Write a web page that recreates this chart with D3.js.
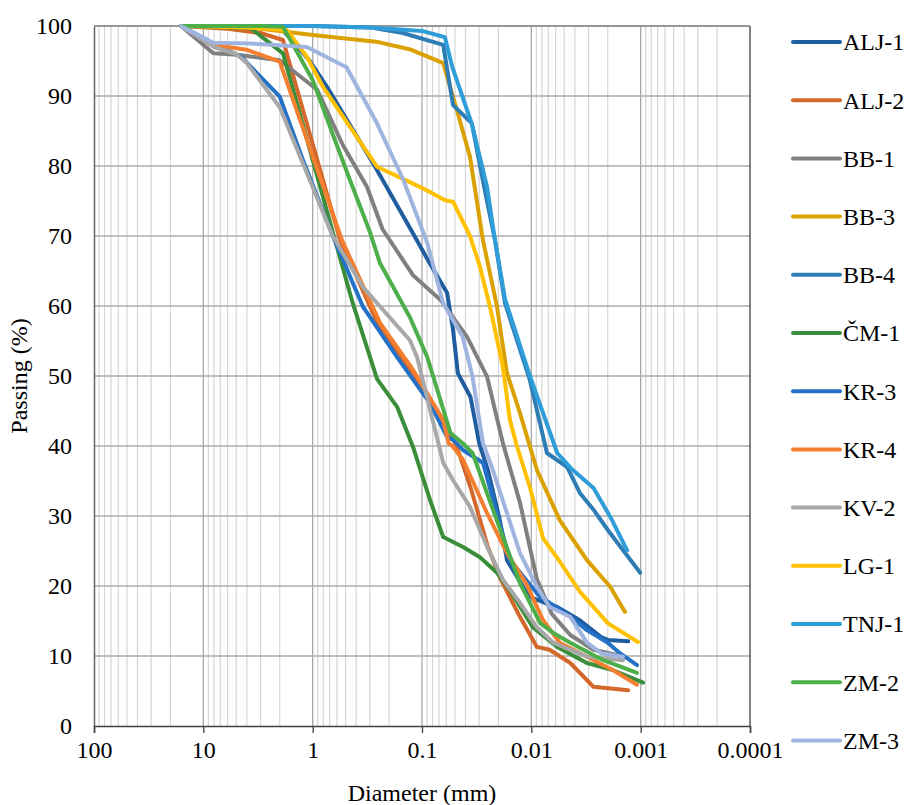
<!DOCTYPE html>
<html>
<head>
<meta charset="utf-8">
<script src="https://cdn.jsdelivr.net/npm/d3@7"></script>
<style>
  html, body { margin: 0; padding: 0; background: #fff; }
  svg { display: block; }
  svg text { font-family: "Liberation Serif", "Times New Roman", Times, "DejaVu Serif", serif !important; fill: #000; }
</style>
</head>
<body>
<div id="chart"></div>
<script>
// ---- data: [diameter (mm), passing (%)] ----
const seriesNames = ["ALJ-1","ALJ-2","BB-1","BB-3","BB-4","ČM-1","KR-3","KR-4","KV-2","LG-1","TNJ-1","ZM-2","ZM-3"];
const seriesColors = ["#1F5DA0","#D4672A","#808080","#DBA100","#2E7DB5","#3A8E3A","#2472C8","#F47F30","#A8A8A8","#FFC000","#2E9DD8","#4DAF4A","#9FB4DF"];

const ALJ1 = [[16,100],[4,100],[1.87,99.4],[1.06,95],[0.74,91.3],[0.28,80.4],[0.121,70.4],[0.085,66.1],[0.059,61.9],[0.052,56.6],[0.047,50.4],[0.036,47],[0.03,40.4],[0.025,36.6],[0.0194,29.4],[0.0167,23.7],[0.0105,18.5],[0.0075,17.6],[0.0058,17],[0.0036,15.1],[0.0023,12.7],[0.002,12.3],[0.0013,12.1]];
const ALJ2 = [[16,100],[6,99.6],[3,99],[1.87,98],[0.56,69.4],[0.24,56.6],[0.121,50.4],[0.064,43.7],[0.048,39.9],[0.036,34.1],[0.025,25.6],[0.019,20.9],[0.0127,15.6],[0.0089,11.3],[0.0068,10.9],[0.0044,9],[0.0027,5.6],[0.0013,5.1]];
const BB1 = [[16,100],[8.1,96.1],[4.9,95.9],[2,95.1],[0.91,90.9],[0.53,83],[0.318,77],[0.23,71],[0.121,64.4],[0.068,60.9],[0.0387,55.6],[0.0254,49.9],[0.0182,40.4],[0.0127,31.9],[0.0089,21],[0.0065,16],[0.0044,13],[0.0027,10.9],[0.0014,9.9]];
const BB3 = [[16,100],[5,100],[2,99.3],[1,98.7],[0.5,98.2],[0.25,97.7],[0.125,96.6],[0.064,94.7],[0.048,88],[0.0364,81.3],[0.0277,69.4],[0.0206,59.9],[0.0167,50.4],[0.0127,44.7],[0.0089,36.6],[0.0055,29.4],[0.0031,23.7],[0.0019,19.9],[0.00139,16.3]];
const BB4 = [[16,100],[1,100],[0.3,99.8],[0.15,99],[0.064,97.3],[0.052,88.7],[0.035,86.1],[0.027,77],[0.0215,69.4],[0.0174,60.4],[0.0103,49.4],[0.0072,39],[0.0047,37],[0.0036,33.3],[0.0027,30.9],[0.002,28],[0.00101,21.9]];
const CM1 = [[16,100],[3.7,99.7],[1.87,96.1],[0.65,70.4],[0.43,60.4],[0.258,49.6],[0.169,45.6],[0.121,39.9],[0.0845,32.3],[0.064,27],[0.0425,25.6],[0.0295,24.1],[0.0206,21.9],[0.0157,19.4],[0.0097,14.1],[0.0058,11.3],[0.0031,9],[0.0018,8],[0.00095,6.2]];
const KR3 = [[16,100],[8,97.5],[4.5,95.6],[2,89.9],[1.23,80.9],[0.65,69.9],[0.347,59.9],[0.169,52.7],[0.0845,46.1],[0.059,41.3],[0.052,40.9],[0.042,39.4],[0.0277,37.6],[0.0157,23.7],[0.0083,18.4],[0.0068,17.6],[0.0044,15.6],[0.0031,13.7],[0.002,11.9],[0.00155,10.4],[0.00108,8.7]];
const KR4 = [[16,100],[8,97.3],[4,96.6],[2,94.9],[0.54,69.4],[0.242,57.6],[0.121,50.9],[0.064,43.7],[0.057,40.4],[0.052,39.9],[0.042,38],[0.0254,30.4],[0.0167,24.7],[0.011,20.2],[0.0078,15.1],[0.0055,11.9],[0.0031,9.9],[0.0018,8],[0.00108,5.9]];
const KV2 = [[16,100],[8,97],[5,96],[4,94.7],[2,88.4],[0.65,69.9],[0.347,62.7],[0.129,55.1],[0.111,52.7],[0.064,37.6],[0.052,35.1],[0.0364,31.3],[0.0254,25.6],[0.0182,20.9],[0.0127,17.6],[0.0089,14.1],[0.0063,11.9],[0.0031,9.9],[0.00145,9.4]];
const LG1 = [[16,100],[4,99.8],[2,99.5],[1.72,99.4],[1.13,95.6],[0.805,91.3],[0.456,85.6],[0.258,79.9],[0.129,77.7],[0.0845,76.3],[0.0617,75.1],[0.052,74.9],[0.0364,70],[0.0295,65.6],[0.0239,59.9],[0.0182,51.3],[0.0157,43.7],[0.0135,39.9],[0.0103,34.1],[0.0078,26.8],[0.0055,23.5],[0.0036,19.2],[0.002,14.7],[0.00106,12]];
const TNJ1 = [[16,100],[1,100],[0.3,99.8],[0.1,99.3],[0.0617,98.4],[0.053,94.2],[0.035,86],[0.0254,77],[0.0215,69.4],[0.0174,61],[0.0103,50],[0.0058,39],[0.0042,36.6],[0.0027,34],[0.0019,29.9],[0.00133,25.1]];
const ZM2 = [[16,100],[3,100],[1.87,99.9],[1.0,92.3],[0.65,84.4],[0.456,78],[0.3,70.6],[0.242,66.1],[0.129,58.4],[0.0895,52.7],[0.055,41.9],[0.0425,40.4],[0.0345,39],[0.0182,27],[0.0127,20.4],[0.0083,14.7],[0.0063,13.3],[0.0044,11.9],[0.0022,9.4],[0.00108,7.6]];
const ZM3 = [[16,100],[8.2,97.6],[3.7,97.5],[1.13,97],[0.49,94.1],[0.258,86.1],[0.148,78],[0.0895,69],[0.064,60.4],[0.0425,55.6],[0.0345,49.9],[0.0277,40.4],[0.0225,36.6],[0.0167,30.4],[0.0127,24.7],[0.0089,19.9],[0.0068,17],[0.0044,15.6],[0.0031,11.9],[0.0023,10.4],[0.00145,9.9]];

const seriesData = [ALJ1, ALJ2, BB1, BB3, BB4, CM1, KR3, KR4, KV2, LG1, TNJ1, ZM2, ZM3];

const xTickValues = [100, 10, 1, 0.1, 0.01, 0.001, 0.0001];
const xTickLabels = ["100", "10", "1", "0.1", "0.01", "0.001", "0.0001"];
const yTickValues = [0, 10, 20, 30, 40, 50, 60, 70, 80, 90, 100];
const xTitle = "Diameter (mm)";
const yTitle = "Passing (%)";

// ---- layout ----
const W = 913, H = 805;
const L = 94, R = 750, T = 26, B = 726;
const FONT = "'Liberation Serif', 'Times New Roman', Times, 'DejaVu Serif', serif";

const svg = d3.select("#chart").append("svg").attr("width", W).attr("height", H)
  .attr("font-family", FONT);

const x = d3.scaleLog().domain([100, 0.0001]).range([L, R]);
const y = d3.scaleLinear().domain([0, 100]).range([B, T]);

// minor vertical grid
const minor = [];
for (let e = -4; e <= 1; e++) for (let m = 2; m <= 9; m++) minor.push(m * Math.pow(10, e));
svg.append("g").selectAll("line").data(minor).join("line")
  .attr("x1", d => x(d)).attr("x2", d => x(d)).attr("y1", T).attr("y2", B)
  .attr("stroke", "#d6d6d6").attr("stroke-width", 1.2);

// major vertical grid
svg.append("g").selectAll("line").data(xTickValues.slice(1, -1)).join("line")
  .attr("x1", d => x(d)).attr("x2", d => x(d)).attr("y1", T).attr("y2", B)
  .attr("stroke", "#a8a8a8").attr("stroke-width", 1.3);

// horizontal grid
svg.append("g").selectAll("line").data(yTickValues.slice(1)).join("line")
  .attr("x1", L).attr("x2", R).attr("y1", d => y(d)).attr("y2", d => y(d))
  .attr("stroke", "#ababab").attr("stroke-width", 1.3);

// borders
svg.append("line").attr("x1", R).attr("x2", R).attr("y1", T).attr("y2", B)
  .attr("stroke", "#404040").attr("stroke-width", 1.3);
svg.append("line").attr("x1", L).attr("x2", R).attr("y1", T).attr("y2", T)
  .attr("stroke", "#8a8a8a").attr("stroke-width", 1.3);

// axes
const xAxis = d3.axisBottom(x).tickValues(xTickValues)
  .tickFormat((d, i) => xTickLabels[i]).tickSize(7).tickPadding(8);
const gx = svg.append("g").attr("transform", `translate(0,${B})`).call(xAxis)
  .attr("font-family", FONT).attr("font-size", 24);
gx.select(".domain").attr("stroke", "#404040").attr("stroke-width", 1.5);
gx.selectAll(".tick line").attr("stroke", "#404040").attr("stroke-width", 1.3);
gx.selectAll("text").attr("fill", "#000");

const yAxis = d3.axisLeft(y).tickValues(yTickValues).tickSize(0).tickPadding(22);
const gy = svg.append("g").attr("transform", `translate(${L},0)`).call(yAxis)
  .attr("font-family", FONT).attr("font-size", 24);
gy.select(".domain").attr("stroke", "#666").attr("stroke-width", 1.5);
gy.selectAll("text").attr("fill", "#000");

// titles
svg.append("text").attr("x", (L + R) / 2).attr("y", 801).attr("text-anchor", "middle")
  .attr("font-size", 24).text(xTitle);
svg.append("text").attr("transform", `translate(27,${(T + B) / 2}) rotate(-90)`).attr("text-anchor", "middle")
  .attr("font-size", 24).text(yTitle);

// lines
const line = d3.line().x(d => x(d[0])).y(d => y(d[1]));
svg.append("g").selectAll("path").data(seriesData).join("path")
  .attr("d", line).attr("fill", "none")
  .attr("stroke", (d, i) => seriesColors[i]).attr("stroke-width", 4)
  .attr("stroke-linejoin", "round").attr("stroke-linecap", "round");

// legend
const lg = svg.append("g");
const items = lg.selectAll("g").data(seriesNames).join("g")
  .attr("transform", (d, i) => `translate(0,${42 + i * 58.2})`);
items.append("line").attr("x1", 793).attr("x2", 840).attr("y1", 0).attr("y2", 0)
  .attr("stroke", (d, i) => seriesColors[i]).attr("stroke-width", 4).attr("stroke-linecap", "round");
items.append("text").attr("x", 843).attr("y", 0).attr("dy", "0.35em")
  .attr("font-size", 24).text(d => d);
</script>
</body>
</html>
